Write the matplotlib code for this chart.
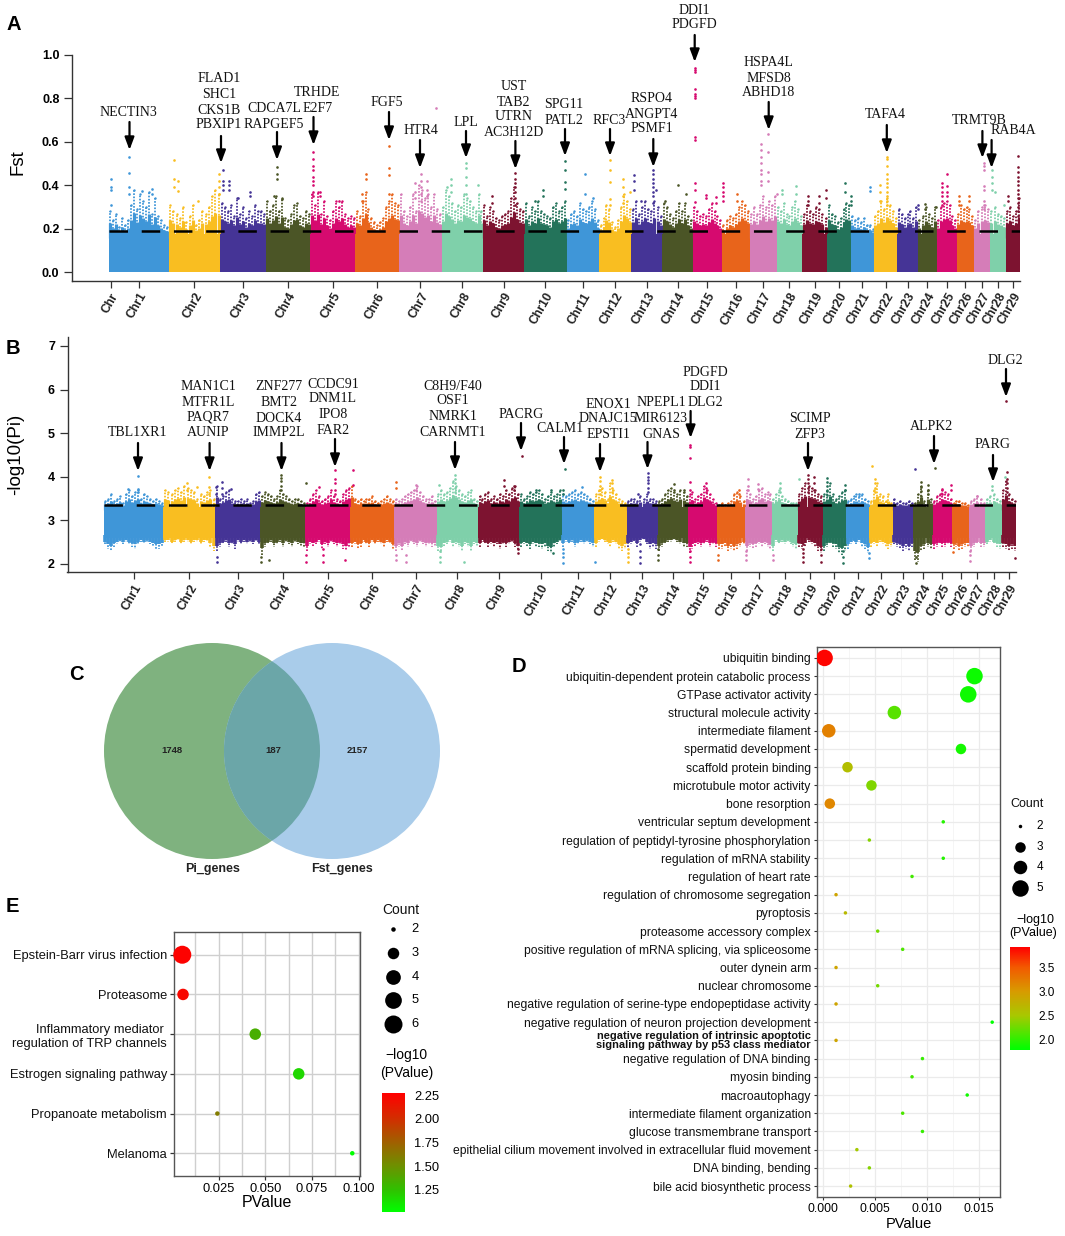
import numpy as np
import matplotlib
matplotlib.use("Agg")
import matplotlib.pyplot as plt
from matplotlib.cm import ScalarMappable
from matplotlib.colors import LinearSegmentedColormap, Normalize
from matplotlib.patches import Circle

plt.rcParams['font.family'] = ['Liberation Sans', 'DejaVu Sans']
plt.rcParams['lines.scale_dashes'] = False

W, H = 1065, 1236

# chromosome sizes (Mb)
chr_len = [158, 137, 120, 118, 120, 116, 113, 109, 109, 113, 86, 85, 82, 81, 77,
           74, 71, 68, 66, 63, 61, 62, 54, 51, 52, 45, 43, 43, 38]
chr_colors = ['#3F96D8', '#F9BE21', '#453496', '#4B5526', '#D60A6F', '#E8641B', '#D57DB8',
              '#7FD0AA', '#7D1330', '#23735A']

# Panel A, upper edge of the points along each chromosome
fst_tops = [
    [.28, .24, .27, .21, .25, .22, .24, .31, .38, .29, .36, .33, .30, .37, .27, .34, .26, .24, .22, .21],
    [.31, .28, .27, .25, .30, .23, .26, .31, .22, .24, .28, .27, .30, .35, .38, .36],
    [.32, .30, .28, .31, .26, .34, .27, .30, .25, .28, .26, .31, .28, .28, .27],
    [.33, .28, .31, .35, .28, .34, .25, .24, .27, .31, .32, .26, .25, .28, .27],
    [.36, .31, .37, .27, .33, .26, .24, .28, .33, .30, .33, .27, .25, .26, .25],
    [.28, .26, .33, .37, .29, .25, .23, .22, .23, .25, .30, .33, .36, .32, .31],
    [.36, .28, .26, .30, .36, .28, .40, .38, .34, .36, .30, .36, .29, .27],
    [.30, .38, .35, .32, .28, .31, .30, .36, .34, .33, .30, .28, .36, .28],
    [.31, .26, .30, .28, .25, .24, .26, .27, .28, .34, .39, .32, .29, .28],
    [.32, .26, .30, .28, .33, .28, .27, .26, .25, .30, .32, .28, .30, .33],
    [.24, .27, .28, .26, .32, .29, .28, .30, .33, .29, .24],
    [.22, .25, .31, .29, .23, .21, .24, .30, .36, .33, .29],
    [.29, .33, .27, .30, .33, .29, .28, .33, .30, .26],
    [.32, .30, .27, .25, .28, .32, .28, .32, .26, .24],
    [.30, .28, .26, .27, .26, .29, .32, .28, .26, .24],
    [.22, .24, .26, .25, .27, .30, .33, .31, .28],
    [.27, .30, .27, .31, .35, .30, .33, .31, .35],
    [.30, .28, .32, .27, .26, .30, .33, .29, .26],
    [.27, .31, .28, .27, .30, .29, .27, .25],
    [.31, .27, .26, .23, .25, .29, .32, .31],
    [.26, .24, .25, .23, .25, .22, .22, .20],
    [.26, .28, .33, .29, .34, .31, .28, .25],
    [.29, .27, .25, .27, .28, .25, .30],
    [.24, .26, .30, .27, .25, .30],
    [.24, .30, .32, .33, .31, .26, .24],
    [.27, .31, .29, .30, .29, .26],
    [.24, .28, .30, .31, .29],
    [.28, .30, .27, .26, .25],
    [.28, .30, .26, .28, .34],
]
fst_solid = 0.175
fst_threshold = 0.19

# (chromosome, position within it, values)
fst_outliers = [
    (1, .03, [.43, .39, .38, .31]), (1, .345, [.53, .455, .39, .36]), (1, .72, [.385, .36]), (1, .56, [.375]),
    (2, .10, [.515, .43, .39]), (2, .19, [.42, .375]), (2, .57, [.33]), (2, .98, [.45, .42, .39, .36]),
    (3, .05, [.47, .42, .40, .38]), (3, .19, [.42, .40, .38]), (3, .39, [.34]), (3, .65, [.37, .35]),
    (4, .26, [.485, .45, .43]), (4, .19, [.35]), (4, .38, [.335]),
    (5, .07, [.555, .52, .49, .47, .44, .42, .40, .37, .35]), (5, .23, [.37, .35]), (5, .64, [.33]),
    (6, .24, [.45, .43]), (6, .16, [.36, .33]), (6, .77, [.58, .48, .445, .36]),
    (7, .52, [.45, .42, .39, .36, .33]), (7, .38, [.41, .37, .34]), (7, .66, [.42, .38, .35]), (7, .86, [.755]),
    (8, .58, [.50, .48, .44, .40, .36]), (8, .23, [.43, .40, .37]), (8, .13, [.39]), (8, .87, [.40]),
    (9, .775, [.455, .43, .41, .39, .37, .34, .31]), (9, .23, [.35, .32]),
    (10, .44, [.38, .35]), (10, .25, [.33]), (10, .97, [.51, .47, .415, .385]),
    (11, .57, [.45, .36]), (11, .80, [.34]),
    (12, .34, [.515, .47, .417, .335, .31]), (12, .74, [.43, .39, .35, .32]), (12, .95, [.37]),
    (13, .08, [.445, .42, .38]), (13, .70, [.47, .45, .43, .41, .39, .37, .35, .32]), (13, .80, [.38]), (13, .32, [.33]),
    (14, .50, [.40]), (14, .78, [.36]), (14, .09, [.33]),
    (15, .07, [.94, .93, .92, .84, .82, .81, .80, .62, .61, .41, .38, .325]), (15, .46, [.355, .34]),
    (15, .81, [.345, .32]), (15, 1.05, [.41, .39, .37, .35, .33]),
    (16, .56, [.36, .33]),
    (17, .42, [.59, .56, .53, .50, .47, .45, .42, .40]), (17, .69, [.635, .555, .46, .42]), (17, 1.0, [.36]),
    (18, .23, [.38, .36]), (18, .77, [.395, .36]),
    (19, .25, [.35, .33, .31]), (19, .66, [.35, .32]), (19, .97, [.38, .34]),
    (20, .73, [.41, .37]), (20, 1.0, [.35, .33, .31]),
    (21, .82, [.39, .375]),
    (22, .54, [.53, .52, .49, .45, .43, .41, .39, .37, .35, .33, .31]), (22, .25, [.40, .37, .33]),
    (23, 1.0, [.31, .29]), (24, .39, [.315, .29]), (24, .96, [.30]),
    (25, .28, [.41, .39, .37, .35, .33, .31]), (25, .53, [.45, .395, .37, .35]),
    (26, .16, [.35, .33, .31]), (26, .73, [.35, .33]),
    (27, .62, [.50, .49, .47, .395, .38, .33, .31, .29]),
    (28, .12, [.47, .44, .41, .38]), (28, .33, [.37]), (28, .90, [.31]),
    (29, .84, [.535, .485, .46, .44, .42, .40, .38, .36, .34, .32, .30, .28, .26, .24]), (29, .17, [.35, .33]),
]

# Panel B
pi_tops = [
    [3.45, 3.5, 3.6, 3.45, 3.5, 3.55, 3.4, 3.6, 3.7, 3.55, 3.65, 3.7, 3.5, 3.6, 3.55, 3.5, 3.45, 3.5, 3.45, 3.4],
    [3.7, 3.65, 3.6, 3.7, 3.75, 3.65, 3.8, 3.75, 3.7, 3.65, 3.5, 3.6, 3.55, 3.65, 3.7, 3.5],
    [3.8, 3.5, 3.55, 3.65, 3.7, 3.5, 3.45, 3.45, 3.5, 3.45, 3.5, 3.4, 3.45, 3.6, 3.65],
    [3.55, 3.65, 3.6, 3.55, 3.5, 3.55, 3.7, 3.6, 3.55, 3.5, 3.45, 3.5, 3.5, 3.45, 3.4],
    [3.4, 3.5, 3.6, 3.7, 3.55, 3.45, 3.5, 3.55, 3.7, 3.55, 3.5, 3.45, 3.6, 3.7, 3.75],
    [3.8, 3.5, 3.45, 3.5, 3.45, 3.5, 3.5, 3.55, 3.45, 3.4, 3.45, 3.5, 3.55, 3.5, 3.45],
    [3.5, 3.45, 3.5, 3.55, 3.6, 3.65, 3.7, 3.8, 3.65, 3.55, 3.5, 3.5, 3.55, 3.45],
    [3.6, 3.7, 3.6, 3.65, 3.75, 3.9, 3.8, 3.7, 3.6, 3.55, 3.65, 3.7, 3.5, 3.45],
    [3.55, 3.5, 3.6, 3.65, 3.5, 3.55, 3.5, 3.6, 3.55, 3.7, 3.6, 3.75, 3.8, 3.6],
    [3.6, 3.5, 3.55, 3.65, 3.6, 3.65, 3.7, 3.6, 3.5, 3.55, 3.65, 3.55, 3.6, 3.7],
    [3.6, 3.55, 3.6, 3.65, 3.7, 3.6, 3.65, 3.6, 3.55, 3.5, 3.45],
    [3.6, 3.7, 3.75, 3.65, 3.5, 3.85, 3.7, 3.6, 3.5, 3.45, 3.4],
    [3.45, 3.5, 3.5, 3.45, 3.55, 3.5, 3.6, 3.5, 3.5, 3.45],
    [3.45, 3.5, 3.6, 3.7, 3.75, 3.65, 3.6, 3.7, 3.65, 3.55],
    [3.6, 3.65, 3.5, 3.55, 3.6, 3.8, 3.7, 3.6, 3.5, 3.4],
    [3.35, 3.4, 3.35, 3.4, 3.45, 3.6, 3.65, 3.55, 3.45],
    [3.7, 3.6, 3.5, 3.55, 3.7, 3.75, 3.6, 3.65, 3.6],
    [3.5, 3.6, 3.7, 3.55, 3.5, 3.45, 3.4, 3.4, 3.4],
    [3.6, 3.75, 3.85, 3.8, 3.75, 3.7, 3.6, 3.55],
    [3.6, 3.7, 3.85, 3.6, 3.5, 3.55, 3.65, 3.7],
    [3.45, 3.5, 3.55, 3.6, 3.55, 3.6, 3.5, 3.45],
    [3.45, 3.7, 3.85, 3.6, 3.55, 3.45, 3.6, 3.4],
    [3.5, 3.4, 3.45, 3.4, 3.4, 3.45, 3.4],
    [3.4, 3.6, 3.8, 3.45, 3.7, 3.5],
    [3.45, 3.55, 3.6, 3.7, 3.65, 3.6, 3.5],
    [3.4, 3.45, 3.45, 3.4, 3.4, 3.35],
    [3.45, 3.5, 3.55, 3.5, 3.4],
    [3.5, 3.55, 3.6, 3.5, 3.45],
    [3.7, 3.9, 3.6, 3.5, 3.45],
]
# lower edge of the points
pi_bottoms = [
    [2.45, 2.35, 2.3, 2.4, 2.45, 2.5, 2.45, 2.5, 2.45, 2.4, 2.35, 2.45, 2.5, 2.45, 2.5, 2.45, 2.4, 2.35, 2.35, 2.4],
    [2.5, 2.5, 2.45, 2.5, 2.55, 2.45, 2.5, 2.5, 2.45, 2.5, 2.5, 2.45, 2.5, 2.5, 2.4, 2.3],
    [2.3, 2.4, 2.45, 2.5, 2.4, 2.45, 2.35, 2.5, 2.45, 2.5, 2.45, 2.5, 2.45, 2.5, 2.45],
    [2.2, 2.4, 2.45, 2.5, 2.4, 2.45, 2.5, 2.4, 2.5, 2.45, 2.4, 2.5, 2.45, 2.4, 2.4],
    [2.3, 2.45, 2.4, 2.45, 2.5, 2.35, 2.45, 2.4, 2.5, 2.45, 2.4, 2.45, 2.35, 2.3, 2.4],
    [2.4, 2.45, 2.35, 2.4, 2.5, 2.45, 2.4, 2.5, 2.45, 2.5, 2.45, 2.4, 2.5, 2.45, 2.35],
    [2.3, 2.4, 2.3, 2.45, 2.4, 2.5, 2.45, 2.4, 2.5, 2.45, 2.4, 2.45, 2.4, 2.4],
    [2.3, 2.25, 2.4, 2.45, 2.5, 2.4, 2.45, 2.4, 2.3, 2.45, 2.4, 2.3, 2.45, 2.4],
    [2.4, 2.5, 2.45, 2.4, 2.45, 2.4, 2.45, 2.35, 2.45, 2.4, 2.45, 2.5, 2.4, 2.3],
    [2.4, 2.45, 2.4, 2.35, 2.45, 2.4, 2.4, 2.35, 2.4, 2.3, 2.25, 2.4, 2.45, 2.5],
    [2.4, 2.5, 2.45, 2.5, 2.4, 2.45, 2.5, 2.45, 2.5, 2.45, 2.4],
    [2.4, 2.5, 2.55, 2.5, 2.45, 2.4, 2.5, 2.45, 2.35, 2.3, 2.35],
    [2.4, 2.45, 2.5, 2.4, 2.5, 2.55, 2.45, 2.35, 2.4, 2.35],
    [2.3, 2.4, 2.45, 2.5, 2.5, 2.55, 2.5, 2.45, 2.4, 2.4],
    [2.25, 2.35, 2.4, 2.45, 2.4, 2.45, 2.5, 2.4, 2.45, 2.4],
    [2.35, 2.35, 2.4, 2.3, 2.35, 2.3, 2.35, 2.4, 2.45],
    [2.3, 2.4, 2.35, 2.4, 2.45, 2.4, 2.45, 2.4, 2.35],
    [2.3, 2.5, 2.45, 2.5, 2.45, 2.5, 2.45, 2.4, 2.35],
    [2.4, 2.35, 2.4, 2.5, 2.45, 2.4, 2.3, 2.25],
    [2.3, 2.4, 2.45, 2.4, 2.35, 2.25, 2.2, 2.3],
    [2.35, 2.45, 2.5, 2.45, 2.5, 2.4, 2.35, 2.25],
    [2.4, 2.45, 2.4, 2.5, 2.45, 2.4, 2.35, 2.4],
    [2.45, 2.4, 2.35, 2.3, 2.35, 2.3, 2.4],
    [2.1, 2.05, 2.3, 2.35, 2.4, 2.35],
    [2.35, 2.4, 2.45, 2.4, 2.4, 2.45, 2.4],
    [2.35, 2.4, 2.3, 2.35, 2.4, 2.4],
    [2.3, 2.4, 2.45, 2.4, 2.4],
    [2.45, 2.5, 2.45, 2.4, 2.35],
    [2.4, 2.35, 2.3, 2.35, 2.3],
]
pi_solid_low = 2.6
pi_solid_high = 3.3
pi_threshold = 3.36

pi_outliers = [
    (1, .57, [4.02, 3.73, 3.65]), (1, .40, [3.71]),
    (2, .88, [4.0, 3.77, 3.6]), (2, .45, [3.85, 3.7]), (2, .65, [3.77]),
    (3, .16, [3.89, 3.75, 3.6]), (3, .02, [3.77, 3.6]), (3, .35, [3.71]), (3, .04, [2.05, 2.17]),
    (4, .47, [4.05, 3.97, 3.9, 3.8, 3.7]), (4, 1.03, [3.85]), (4, .02, [2.05, 2.15]), (4, .18, [2.1]),
    (5, .66, [4.15, 3.95, 3.85, 3.7, 3.6]), (5, 1.05, [4.15, 3.81]), (5, .31, [3.77]),
    (5, .03, [2.05, 2.2]), (5, .39, [2.05, 2.2, 2.35]), (5, .87, [2.1]),
    (6, 1.05, [3.89, 3.75]), (7, .51, [3.81, 3.7]), (7, .05, [2.1, 2.2]), (7, .27, [2.05, 2.2]),
    (8, .45, [4.05, 3.95, 3.85, 3.75, 3.65]), (8, .05, [3.81]), (8, .08, [2.05, 2.15, 2.3]), (8, .65, [2.05]),
    (9, 1.06, [4.47]), (9, .64, [3.93, 3.8]), (9, .87, [3.79, 3.7]), (9, .96, [2.25, 2.35]),
    (10, .40, [3.7]), (10, 1.07, [4.18]), (10, 1.03, [3.7, 3.6]), (10, .75, [3.7]), (10, .80, [2.25]),
    (11, .62, [3.77]), (11, .03, [2.02, 2.15, 2.25, 2.35]), (11, 1.02, [2.05]),
    (12, .18, [4.0, 3.9, 3.8, 3.7, 3.6]), (12, .54, [3.93, 3.85, 3.75, 3.65]), (12, 1.03, [2.05, 2.15, 2.25, 2.35]),
    (13, .69, [4.08, 4.0, 3.93, 3.85, 3.75, 3.65]), (13, .38, [3.6]), (13, .44, [2.02, 2.15, 2.3, 2.45]),
    (14, .55, [3.83, 3.7]), (14, .85, [3.7]), (14, .03, [2.1, 2.2, 2.35]),
    (15, .08, [4.72, 4.68, 4.43, 3.89, 3.7]), (15, .62, [3.85, 3.75, 3.65]), (15, .06, [2.05, 2.15, 2.3, 2.45]),
    (16, .78, [3.7, 3.6]), (16, .02, [2.1, 2.2]),
    (17, .10, [3.95, 3.8, 3.7]), (17, .48, [3.83, 3.73]), (17, .03, [2.1, 2.2, 2.3]), (17, 1.03, [2.1, 2.2]),
    (18, .32, [3.86, 3.75, 3.65]), (18, 1.05, [3.96]),
    (19, .43, [4.04, 3.95, 3.85, 3.75, 3.65]), (19, .65, [4.0, 3.85, 3.7]),
    (19, .22, [2.05, 2.15, 2.25, 2.35, 2.45]), (19, .93, [2.05, 2.2, 2.35]),
    (20, .19, [3.98, 3.88, 3.78, 3.68, 3.58]), (20, .93, [3.81, 3.7]), (20, .84, [2.03, 2.15, 2.3, 2.45]),
    (21, .98, [2.13, 2.25]), (21, .55, [3.6]),
    (22, .10, [4.25]), (22, .24, [3.95, 3.85, 3.75, 3.65]),
    (23, 1.10, [4.18]), (24, .40, [3.87, 3.77, 3.67, 3.57]), (24, .76, [3.81, 3.7, 3.6]),
    (24, .16, [2.02, 2.15, 2.3]), (24, 1.13, [4.2]),
    (25, .93, [3.81, 3.7]), (25, .47, [3.71, 3.61]), (26, .02, [2.28]),
    (27, .49, [3.56]), (27, .04, [2.08, 2.2, 2.3]), (28, .43, [3.79, 3.7]), (28, 1.2, [4.0]),
    (29, .32, [5.74]), (29, .34, [4.12, 3.95, 3.85, 3.75, 3.65]), (29, .93, [2.13]),
]

chr_labels = ['Chr%d' % i for i in range(1, 30)]

venn_counts = [1748, 187, 2157]
venn_names = ['Pi_genes', 'Fst_genes']

d_terms = ['ubiquitin binding', 'ubiquitin-dependent protein catabolic process', 'GTPase activator activity',
           'structural molecule activity', 'intermediate filament', 'spermatid development',
           'scaffold protein binding', 'microtubule motor activity', 'bone resorption',
           'ventricular septum development', 'regulation of peptidyl-tyrosine phosphorylation',
           'regulation of mRNA stability', 'regulation of heart rate', 'regulation of chromosome segregation',
           'pyroptosis', 'proteasome accessory complex', 'positive regulation of mRNA splicing, via spliceosome',
           'outer dynein arm', 'nuclear chromosome', 'negative regulation of serine-type endopeptidase activity',
           'negative regulation of neuron projection development',
           'negative regulation of intrinsic apoptotic\nsignaling pathway by p53 class mediator',
           'negative regulation of DNA binding', 'myosin binding', 'macroautophagy',
           'intermediate filament organization', 'glucose transmembrane transport',
           'epithelial cilium movement involved in extracellular fluid movement', 'DNA binding, bending',
           'bile acid biosynthetic process']
d_pvalue = [.0002, .0146, .0140, .0069, .0006, .0133, .0024, .0047, .0007, .0116, .0045, .0116, .0086, .0013, .0022,
            .0053, .0077, .0013, .0053, .0013, .0163, .0013, .0096, .0086, .0139, .0077, .0096, .0033, .0045, .0027]
d_count = [5, 5, 5, 4, 4, 3, 3, 3, 3, 2, 2, 2, 2, 2, 2, 2, 2, 2, 2, 2, 2, 2, 2, 2, 2, 2, 2, 2, 2, 2]
d_logp = [3.9, 1.84, 1.85, 2.16, 3.2, 1.88, 2.6, 2.33, 3.15, 1.94, 2.35, 1.94, 2.07, 2.89, 2.66,
          2.28, 2.11, 2.89, 2.28, 2.89, 1.79, 2.89, 2.02, 2.07, 1.86, 2.11, 2.02, 2.48, 2.35, 2.57]

e_terms = ['Epstein-Barr virus infection', 'Proteasome', 'Inflammatory mediator \nregulation of TRP channels',
           'Estrogen signaling pathway', 'Propanoate metabolism', 'Melanoma']
e_pvalue = [.0055, .0059, .0446, .0679, .0243, .0966]
e_count = [6, 3, 3, 3, 2, 2]
e_logp = [2.26, 2.23, 1.35, 1.17, 1.61, 1.01]


def add_axes_px(fig, left, top, right, bottom):
    return fig.add_axes([left / W, 1 - bottom / H, (right - left) / W, (bottom - top) / H])


def diam(d):
    # marker area from a diameter in pixels
    return (d * 72 / 100) ** 2


def dots(n):
    # shift the dash phase per column so the dots do not line up in rows
    return [((i * 0.8) % 2.3, (1.2, 1.1)) for i in range(n)]


def manhattan(ax, tops, outliers, threshold, solid, bottoms=None):
    lens = np.array(chr_len, dtype=float)
    starts = np.concatenate([[0], np.cumsum(lens)[:-1]])
    span = solid[1] - solid[0]
    for i, (s, l) in enumerate(zip(starts, lens)):
        c = chr_colors[i % 10]
        ax.fill_between([s, s + l], solid[0], solid[1], color=c, lw=0, zorder=2)
        t = np.array(tops[i])
        xs = s + (np.arange(len(t)) + 0.5) / len(t) * l
        # dense part of the column, then loose dots up to the top
        ax.vlines(xs, solid[1] - span * 0.1, solid[1] + (t - solid[1]) * 0.48, color=c, lw=2.3, zorder=2)
        ax.vlines(xs, solid[1], t, color=c, lw=1.3, linestyles=dots(len(t)), zorder=1)
        ax.scatter(xs, t, s=3, color=c, lw=0, zorder=1)
        if bottoms is not None:
            b = np.array(bottoms[i])
            xb = s + (np.arange(len(b)) + 0.5) / len(b) * l
            ax.vlines(xb, solid[0] - (solid[0] - b) * 0.6, solid[0] + span * 0.1, color=c, lw=2.6, zorder=2)
            ax.vlines(xb, b, solid[0], color=c, lw=1.3, linestyles=dots(len(b)), zorder=1)
    for num, frac, vals in outliers:
        i = num - 1
        ax.scatter([starts[i] + frac * lens[i]] * len(vals), vals, s=3.6, color=chr_colors[i % 10], lw=0, zorder=3)
    ax.hlines(threshold, 0, lens.sum(), color='black', lw=1.8, linestyles=(0, (13.3, 9.9)), zorder=4)
    for side in ['top', 'right']:
        ax.spines[side].set_visible(False)
    for side in ['left', 'bottom']:
        ax.spines[side].set_color('#333333')
        ax.spines[side].set_linewidth(1.0)
    return starts, lens


def chr_ticks(ax, starts, lens, extra=None):
    pos = list(starts + lens / 2)
    labs = list(chr_labels)
    if extra is not None:
        pos = [extra] + pos
        labs = ['Chr'] + labs
    ax.set_xticks(pos)
    ax.set_xticklabels(labs, rotation=60, ha='right', va='top', rotation_mode='anchor',
                       fontsize=8.8, fontweight='bold', color='#222222')
    ax.tick_params(axis='x', length=5, width=0.9, color='#333333', pad=2)


fig = plt.figure(figsize=(W / 100, H / 100), dpi=100)
k = sum(chr_len) / (1020.4 - 108.9)

# A
ax_a = add_axes_px(fig, 72, 54.5, 1020.4, 281)
starts, lens = manhattan(ax_a, fst_tops, fst_outliers, fst_threshold, (0, fst_solid))
ax_a.set_xlim(-(108.9 - 72) * k, sum(chr_len))
ax_a.set_ylim(-8.5 / 218, 1.0)
ax_a.set_yticks([0, .2, .4, .6, .8, 1.0])
ax_a.set_yticklabels(['0.0', '0.2', '0.4', '0.6', '0.8', '1.0'], fontsize=9, fontweight='bold')
ax_a.tick_params(axis='y', length=6, width=0.9, color='#333333', pad=3)
chr_ticks(ax_a, starts, lens, extra=1.7 * k)
ax_a.set_ylabel('Fst', fontsize=13.5)
ax_a.yaxis.set_label_coords(-45 / 948.4, .523)

# B
ax_b = add_axes_px(fig, 67.5, 337, 1016, 572.3)
starts, lens = manhattan(ax_b, pi_tops, pi_outliers, pi_threshold, (pi_solid_low, pi_solid_high), bottoms=pi_bottoms)
ax_b.set_xlim(-(103.7 - 67.5) * k, sum(chr_len))
ax_b.set_ylim(2 - 8.3 / 43.6, 7 + 9 / 43.6)
ax_b.set_yticks([2, 3, 4, 5, 6, 7])
ax_b.set_yticklabels(['2', '3', '4', '5', '6', '7'], fontsize=9, fontweight='bold')
ax_b.tick_params(axis='y', length=6, width=0.9, color='#333333', pad=3)
chr_ticks(ax_b, starts, lens)
ax_b.set_ylabel('-log10(Pi)', fontsize=13.5)
ax_b.yaxis.set_label_coords(-43 / 948.5, .5)

# D
ax_d = add_axes_px(fig, 817, 647, 1000, 1197)
cmap_d = LinearSegmentedColormap.from_list('d', [(0, '#00FF00'), (.33, '#A8C800'), (.57, '#D89A00'),
                                                 (.8, '#F25A00'), (1, '#FF0000')])
norm_d = Normalize(1.79, 3.92)
size_d = {2: 3.5, 3: 10.5, 4: 13.5, 5: 16.5}
ypos = np.arange(len(d_terms))
ax_d.scatter(d_pvalue, ypos, s=[diam(size_d[c]) for c in d_count], c=d_logp, cmap=cmap_d, norm=norm_d, lw=0, zorder=3)
ax_d.set_xlim(-0.00053, 0.01705)
ax_d.set_ylim(len(d_terms) - 1 + 0.6, -0.6)
ax_d.set_yticks(ypos)
ax_d.set_yticklabels(d_terms, fontsize=8.7, color='#111111')
for lab, term in zip(ax_d.get_yticklabels(), d_terms):
    if '\n' in term:
        lab.set_fontweight('bold')
        lab.set_fontsize(7.9)
        lab.set_linespacing(0.85)
ax_d.set_xticks([0, .005, .01, .015])
ax_d.set_xticklabels(['0.000', '0.005', '0.010', '0.015'], fontsize=8.7)
ax_d.set_xticks([.0025, .0075, .0125], minor=True)
ax_d.tick_params(axis='x', which='minor', length=0)
ax_d.grid(True, which='major', color='#EBEBEB', lw=0.9, zorder=0)
ax_d.grid(True, which='minor', axis='x', color='#F2F2F2', lw=0.5, zorder=0)
ax_d.set_axisbelow(True)
ax_d.tick_params(axis='both', which='major', length=2.5, width=0.8, color='#333333', pad=2)
ax_d.set_xlabel('PValue', fontsize=10.5, labelpad=1)
for sp in ax_d.spines.values():
    sp.set_color('#555555')
    sp.set_linewidth(1.0)

# E
ax_e = add_axes_px(fig, 174, 931.7, 360.3, 1176.3)
cmap_e = LinearSegmentedColormap.from_list('e', [(0, '#00FF00'), (.19, '#30C000'), (.39, '#6E9000'),
                                                 (.59, '#A06000'), (.78, '#D03000'), (1, '#FF0000')])
norm_e = Normalize(1.014, 2.27)
size_e = {2: 4.5, 3: 11.5, 4: 14.7, 5: 16.7, 6: 18}
ypos_e = np.arange(len(e_terms))
ax_e.scatter(e_pvalue, ypos_e, s=[diam(size_e[c]) for c in e_count], c=e_logp, cmap=cmap_e, norm=norm_e, lw=0,
             zorder=3, clip_on=False)
ax_e.set_xlim(0.00106, 0.1009)
ax_e.set_ylim(5.58, -0.58)
ax_e.set_yticks(ypos_e)
ax_e.set_yticklabels(e_terms, fontsize=9.3, color='#111111', linespacing=1.3)
ax_e.set_xticks([.025, .05, .075, .1])
ax_e.set_xticklabels(['0.025', '0.050', '0.075', '0.100'], fontsize=9.3)
ax_e.set_xticks([.0125, .0375, .0625, .0875], minor=True)
ax_e.tick_params(axis='x', which='minor', length=0)
ax_e.grid(True, which='both', color='#CFCFCF', lw=1.0, zorder=0)
ax_e.set_axisbelow(True)
ax_e.tick_params(axis='both', which='major', length=3, width=0.9, color='#333333', pad=2)
ax_e.set_xlabel('PValue', fontsize=11.5, labelpad=0)
for sp in ax_e.spines.values():
    sp.set_color('#555555')
    sp.set_linewidth(1.0)

# colour bars
cax_d = add_axes_px(fig, 1010, 947, 1030, 1049.5)
cb_d = fig.colorbar(ScalarMappable(norm=norm_d, cmap=cmap_d), cax=cax_d, ticks=[2.0, 2.5, 3.0, 3.5])
cb_d.ax.set_yticklabels(['2.0', '2.5', '3.0', '3.5'], fontsize=8.5)
cb_d.ax.tick_params(length=0, pad=6)
cb_d.outline.set_visible(False)
cax_e = add_axes_px(fig, 382, 1093.3, 404.7, 1212.3)
cb_e = fig.colorbar(ScalarMappable(norm=norm_e, cmap=cmap_e), cax=cax_e, ticks=[1.25, 1.5, 1.75, 2.0, 2.25])
cb_e.ax.set_yticklabels(['1.25', '1.50', '1.75', '2.00', '2.25'], fontsize=9.3)
cb_e.ax.tick_params(length=0, pad=7)
cb_e.outline.set_visible(False)

# overlay in pixel coordinates: Venn, gene labels, panel letters, legends
ov = fig.add_axes([0, 0, 1, 1], zorder=10)
ov.set_xlim(0, W)
ov.set_ylim(H, 0)
ov.axis('off')
ov.patch.set_alpha(0)

green = Circle((212, 751), 108, fc='#7FB27F', ec='none')
blue = Circle((332, 751), 108, fc='#A9CCEA', ec='none')
ov.add_patch(green)
ov.add_patch(blue)
both = Circle((332, 751), 108, fc='#6BA6A8', ec='none')
ov.add_patch(both)
both.set_clip_path(green)
for x, v in zip([172, 273.5, 357], venn_counts):
    ov.text(x, 750.7, str(v), fontsize=6.8, fontweight='bold', ha='center', va='center', color='#222222')
ov.text(213, 869, venn_names[0], fontsize=9, fontweight='bold', ha='center', va='center', color='#222222')
ov.text(342, 869, venn_names[1], fontsize=9, fontweight='bold', ha='center', va='center', color='#222222')

for x, y, s in [(14, 24, 'A'), (13, 348, 'B'), (76, 674, 'C'), (519, 666, 'D'), (12, 906, 'E')]:
    ov.text(x, y, s, fontsize=14.5, fontweight='bold', ha='center', va='center')

# gene names, centre x, line y's, arrow x, arrow y0, arrow y1
gene_notes = [
    (['NECTIN3'], 128, [113], 129.5, 122, 150),
    (['FLAD1', 'SHC1', 'CKS1B', 'PBXIP1'], 219, [79, 95, 110, 125], 221, 136, 163),
    (['CDCA7L', 'RAPGEF5'], 274, [109, 124], 277, 132, 160),
    (['TRHDE', 'E2F7'], 317.5, [92, 108], 313.5, 117, 145),
    (['FGF5'], 386.6, [103], 389, 112, 140),
    (['HTR4'], 420.5, [131], 420, 140, 168),
    (['LPL'], 466.4, [122], 466, 131, 158),
    (['UST', 'TAB2', 'UTRN', 'AC3H12D'], 513.7, [87, 102, 117, 133], 515.4, 141, 169),
    (['SPG11', 'PATL2'], 563.6, [105, 120], 565, 129, 156),
    (['RFC3'], 608.8, [120], 610, 129, 156),
    (['RSPO4', 'ANGPT4', 'PSMF1'], 651.6, [98, 114, 129], 653.3, 139, 167),
    (['DDI1', 'PDGFD'], 694, [10, 25], 694.7, 35, 62),
    (['HSPA4L', 'MFSD8', 'ABHD18'], 768.7, [63, 78, 93], 768.7, 102, 130),
    (['TAFA4'], 885.5, [115], 886.8, 125, 153),
    (['TRMT9B'], 979.3, [120], 982.4, 131, 158),
    (['RAB4A'], 1013.6, [131], 991.6, 140, 168),
    (['TBL1XR1'], 138, [433], 138, 443, 471),
    (['MAN1C1', 'MTFR1L', 'PAQR7', 'AUNIP'], 208, [387, 402, 417, 432], 209.6, 443, 471),
    (['ZNF277', 'BMT2', 'DOCK4', 'IMMP2L'], 279, [387, 403, 418, 433], 281.5, 443, 471),
    (['CCDC91', 'DNM1L', 'IPO8', 'FAR2'], 333, [384, 399, 415, 430], 335, 439, 467),
    (['C8H9/F40', 'OSF1', 'NMRK1', 'CARNMT1'], 453, [386, 401, 416, 432], 455, 442, 470),
    (['PACRG'], 521, [414], 521, 423, 451),
    (['CALM1'], 560, [428], 564, 437, 464),
    (['ENOX1', 'DNAJC15', 'EPSTI1'], 608, [404, 419, 435], 600, 444, 472),
    (['NPEPL1', 'MIR6123', 'GNAS'], 661, [403, 418, 434], 647.5, 442, 469),
    (['PDGFD', 'DDI1', 'DLG2'], 705, [372, 387, 403], 690.6, 411, 438),
    (['SCIMP', 'ZFP3'], 810, [418, 434], 808, 443, 471),
    (['ALPK2'], 931, [426], 934, 436, 464),
    (['PARG'], 992.7, [445], 993, 455, 482),
    (['DLG2'], 1005, [360], 1006, 369, 397),
]
for names, cx, ys, ax_x, y0, y1 in gene_notes:
    for name, y in zip(names, ys):
        ov.text(cx, y, name, fontsize=10, family='Liberation Serif', ha='center', va='center', color='#111111')
    ov.annotate('', xy=(ax_x, y1), xytext=(ax_x, y0),
                arrowprops=dict(arrowstyle='-|>,head_width=0.28,head_length=0.75', color='black', lw=1.6,
                                shrinkA=0, shrinkB=0))

# size legends
ov.text(1027, 804, 'Count', fontsize=9, ha='center', va='center', color='#111111')
for c, y in zip([2, 3, 4, 5], [826, 847, 867, 888]):
    ov.scatter([1020], [y], s=diam(size_d[c]), color='black', lw=0)
    ov.text(1040, y, str(c), fontsize=8.5, ha='center', va='center')
ov.text(1035, 919.5, '\u2212log10', fontsize=9, ha='center', va='center')
ov.text(1033, 933, '(PValue)', fontsize=9, ha='center', va='center')

ov.text(401, 909.7, 'Count', fontsize=10, ha='center', va='center', color='#111111')
for c, y in zip([2, 3, 4, 5, 6], [929, 953, 977, 1000, 1024]):
    ov.scatter([393], [y], s=diam(size_e[c]), color='black', lw=0)
    ov.text(415, y, str(c), fontsize=9.3, ha='center', va='center')
ov.text(406.7, 1055, '\u2212log10', fontsize=10, ha='center', va='center')
ov.text(406.7, 1073, '(PValue)', fontsize=10, ha='center', va='center')

fig.savefig('out.png', dpi=100)
